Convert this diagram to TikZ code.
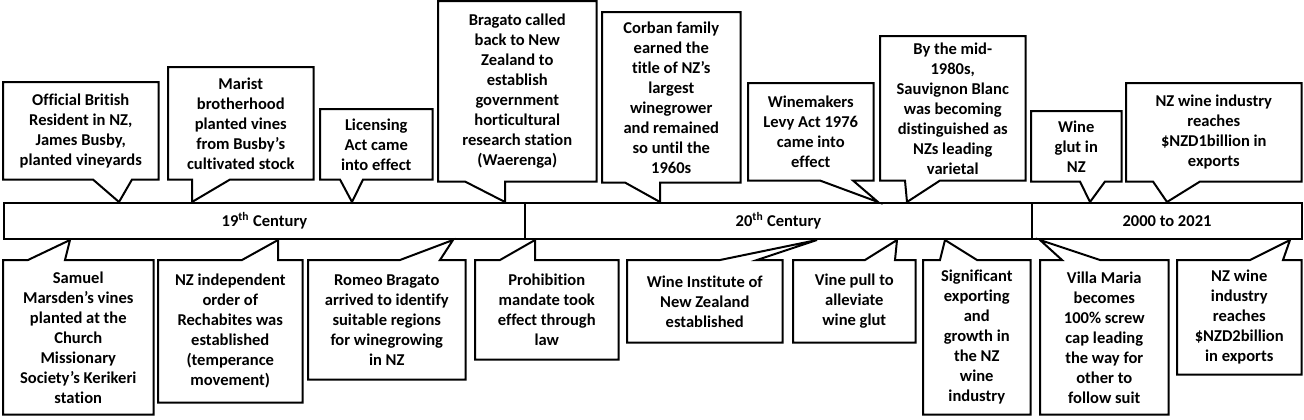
\documentclass[tikz,border=0pt]{standalone}
\usepackage{fontspec}
\setmainfont{Carlito}[Ligatures=NoCommon]
\usetikzlibrary{calc}

\tikzset{
  evt/.style 2 args={font=\bfseries\fontsize{12.4}{15}\selectfont, align=center,
    inner sep=0pt, anchor=north west, minimum width=#1*0.75pt, minimum height=#2*0.75pt},
  era/.style 2 args={draw, line width=1.5pt, font=\bfseries\fontsize{12.4}{15}\selectfont,
    inner sep=0pt, anchor=north west, minimum width=#1*0.75pt, minimum height=#2*0.75pt},
  outline/.style={draw=black, line width=1.5pt, line join=miter}
}

% callout with its tail pointing down to the bar
\newcommand{\tailbelow}[4]{%
  \draw[outline] (#1.north west) -- (#1.north east) -- (#1.south east)
    -- (#3,0 |- #1.south) -- (#4) -- (#2,0 |- #1.south) -- (#1.south west) -- cycle;}
% callout with its tail pointing up to the bar
\newcommand{\tailabove}[4]{%
  \draw[outline] (#1.south west) -- (#1.south east) -- (#1.north east)
    -- (#3,0 |- #1.north) -- (#4) -- (#2,0 |- #1.north) -- (#1.north west) -- cycle;}

\begin{document}
\begin{tikzpicture}[x=0.75pt, y=-0.75pt]
        \fill[white] (0,0) rectangle (1304,419);
        \useasboundingbox (0,0) rectangle (1304,419);

        % Timeline bars
        \node[era={521}{36}] (c19) at (3,202) {19\textsuperscript{th} Century};
        \node[era={507}{36}] (c20) at (524,202) {20\textsuperscript{th} Century};
        \node[era={270}{36}] (c21) at (1031,202) {2000 to 2021};

        % Events above the timeline
        \node[evt={155}{97}] (busby) at (3,82)
            {Official British\\Resident in NZ,\\James Busby,\\planted vineyards};
        \node[evt={145}{112}] (marist) at (168,67)
            {Marist\\brotherhood\\planted vines\\from Busby’s\\cultivated stock};
        \node[evt={112}{70}] (licensing) at (320,109)
            {Licensing\\Act came\\into effect};
        \node[evt={158}{180}] (bragato) at (438,1)
            {Bragato called\\back to New\\Zealand to\\establish\\government\\horticultural\\research station\\(Waerenga)};
        \node[evt={138}{170}] (corban) at (602,12)
            {Corban family\\earned the\\title of NZ’s\\largest\\winegrower\\and remained\\so until the\\1960s};
        \node[evt={125}{97}] (levy) at (748,83)
            {Winemakers\\Levy Act 1976\\came into\\effect};
        \node[evt={145}{144}] (sauvignon) at (880,36)
            {By the mid-\\1980s,\\Sauvignon Blanc\\was becoming\\distinguished as\\NZs leading\\varietal};
        \node[evt={90}{70}] (glut) at (1031,111)
            {Wine\\glut in\\NZ};
        \node[evt={175}{98}] (billionA) at (1126,83)
            {NZ wine industry\\reaches\\\$NZD1billion in\\exports};

        \tailbelow{busby}{93}{132}{119,0 |- c19.north}
        \tailbelow{marist}{192}{230}{192,0 |- c19.north}
        \tailbelow{licensing}{340}{363}{352,0 |- c19.north}
        \tailbelow{bragato}{465}{505}{505,0 |- c19.north}
        \tailbelow{corban}{625}{660}{660,0 |- c20.north}
        \tailbelow{levy}{820}{853}{878,0 |- c20.north}
        \tailbelow{sauvignon}{905}{940}{907,0 |- c20.north}
        \tailbelow{glut}{1080}{1105}{1090,0 |- c21.north}
        \tailbelow{billionA}{1153}{1200}{1167,0 |- c21.north}

        % Events below the timeline
        \node[evt={150}{154}] (marsden) at (3,260)
            {Samuel\\Marsden’s vines\\planted at the\\Church\\Missionary\\Society’s Kerikeri\\station};
        \node[evt={144}{142}] (rechabites) at (158,260)
            {NZ independent\\order of\\Rechabites was\\established\\(temperance\\movement)};
        \node[evt={157}{119}] (romeo) at (308,260)
            {Romeo Bragato\\arrived to identify\\suitable regions\\for winegrowing\\in NZ};
        \node[evt={143}{99}] (prohibition) at (475,260)
            {Prohibition\\mandate took\\effect through\\law};
        \node[evt={155}{82}] (institute) at (627,260)
            {Wine Institute of\\New Zealand\\established};
        \node[evt={122}{82}] (vinepull) at (793,260)
            {Vine pull to\\alleviate\\wine glut};
        \node[evt={107}{154}] (exporting) at (923,260)
            {Significant\\exporting\\and\\growth in\\the NZ\\wine\\industry};
        \node[evt={128}{154}] (villa) at (1040,260)
            {Villa Maria\\becomes\\100\% screw\\cap leading\\the way for\\other to\\follow suit};
        \node[evt={124}{114}] (billionB) at (1177,260)
            {NZ wine\\industry\\reaches\\\$NZD2billion\\in exports};

        \tailabove{marsden}{28}{65}{70,0 |- c19.south}
        \tailabove{rechabites}{242}{278}{278,0 |- c19.south}
        \tailabove{romeo}{400}{440}{453,0 |- c19.south}
        \tailabove{prohibition}{500}{535}{535,0 |- c20.south}
        \tailabove{institute}{720}{757}{817,0 |- c20.south}
        \tailabove{vinepull}{865}{895}{897,0 |- c20.south}
        \tailabove{exporting}{940}{977}{945,0 |- c20.south}
        \tailabove{villa}{1062}{1100}{1040,0 |- c21.south}
        \tailabove{billionB}{1250}{1283}{1290,0 |- c21.south}
\end{tikzpicture}
\end{document}
